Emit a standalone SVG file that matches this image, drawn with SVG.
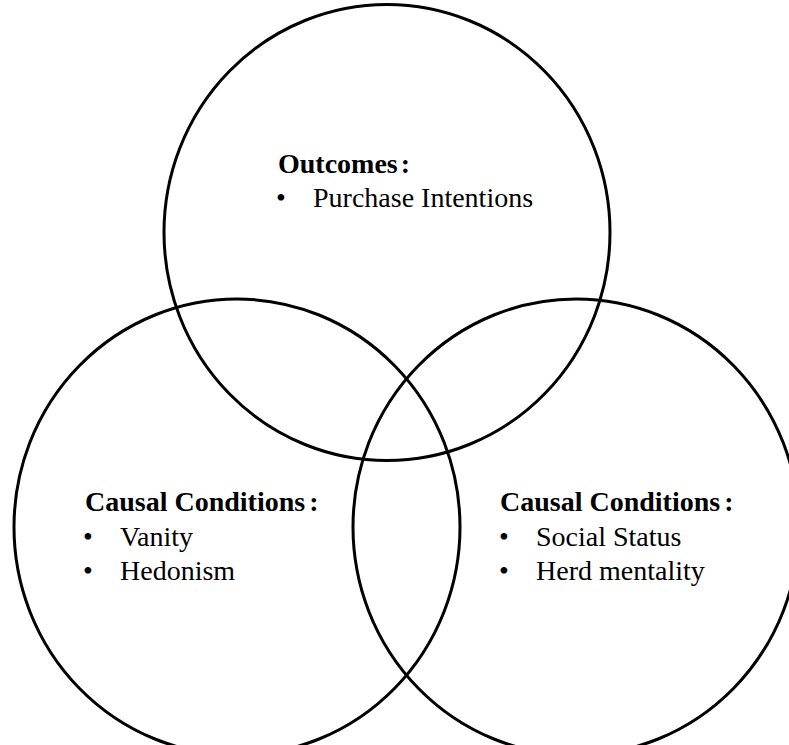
<svg xmlns="http://www.w3.org/2000/svg" width="789" height="745" viewBox="0 0 789 745">
  <style>
    .ring { fill: none; stroke: #000; stroke-width: 3; }
    .head { font-family: "Liberation Serif", "Times New Roman", serif; font-size: 28px; font-weight: bold; fill: #000; }
    .item { font-family: "Liberation Serif", "Times New Roman", serif; font-size: 28px; fill: #000; }
  </style>
  <rect width="789" height="745" fill="#fff"/>

  <!-- Outcomes set -->
  <g id="outcomes">
    <ellipse class="ring" cx="387" cy="232.5" rx="223" ry="228"/>
    <text class="head" x="278" y="173">Outcomes<tspan dx="3">:</tspan></text>
    <text class="item" x="276" y="207">•</text>
    <text class="item" x="313" y="207">Purchase Intentions</text>
  </g>

  <!-- Causal conditions: personal -->
  <g id="conditions-left">
    <ellipse class="ring" cx="237" cy="527" rx="223" ry="228"/>
    <text class="head" x="85" y="511">Causal Conditions<tspan dx="4">:</tspan></text>
    <text class="item" x="83" y="546">•</text>
    <text class="item" x="120" y="546">Vanity</text>
    <text class="item" x="83" y="580">•</text>
    <text class="item" x="120" y="580">Hedonism</text>
  </g>

  <!-- Causal conditions: social -->
  <g id="conditions-right">
    <ellipse class="ring" cx="576" cy="527" rx="223" ry="228"/>
    <text class="head" x="500" y="511">Causal Conditions<tspan dx="4">:</tspan></text>
    <text class="item" x="499" y="546">•</text>
    <text class="item" x="536" y="546">Social Status</text>
    <text class="item" x="499" y="580">•</text>
    <text class="item" x="536" y="580">Herd mentality</text>
  </g>

  <g id="connectors"/>
</svg>
